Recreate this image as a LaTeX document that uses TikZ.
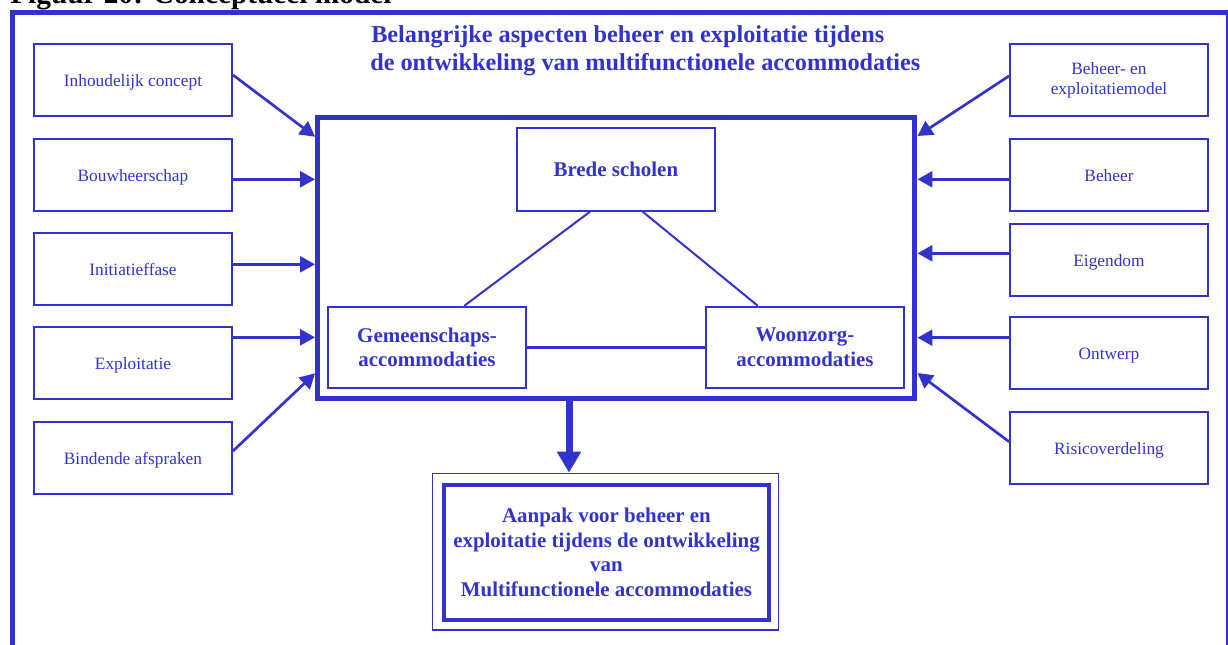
\documentclass[tikz,border=0pt]{standalone}
\usepackage{fontspec}
\setmainfont{Liberation Serif}
\usetikzlibrary{arrows.meta,calc}
\definecolor{diablue}{RGB}{51,51,204}
\begin{document}
\begin{tikzpicture}[x=0.75pt,y=-0.75pt,
  aspect/.style={draw=diablue,line width=1.5pt,text=diablue,minimum width=148.5pt,
    minimum height=54pt,inner sep=0pt,font=\fontsize{13}{15}\selectfont,align=center},
  oneline/.style={text height=9.75pt,text depth=0pt},
  kind/.style={draw=diablue,line width=1.5pt,text=diablue,inner sep=0pt,
    font=\bfseries\fontsize{15.7}{18.4}\selectfont,align=center},
  feed/.style={draw=diablue,line width=2pt,-{Triangle[length=11.25pt,width=12pt]}},
  link/.style={draw=diablue,line width=1.5pt},
  titleline/.style={anchor=base west,inner sep=0pt,text=diablue,
    font=\bfseries\fontsize{18.2}{21}\selectfont},
]
\useasboundingbox (0,0) rectangle (1228,644);

% outer page frame
\draw[diablue,line width=3.4pt] (12.7,680) -- (12.7,12.7) -- (1228,12.7) -- (1228,680);

% caption above the frame
\node[anchor=base west,inner sep=0pt,font=\bfseries\fontsize{22}{24}\selectfont] (caption) at (10,3) {Figuur 20: Conceptueel model};

% title
\node[titleline] (title1) at (371,42.5) {Belangrijke aspecten beheer en exploitatie tijdens};
\node[titleline] (title2) at (370,70) {de ontwikkeling van multifunctionele accommodaties};

% aspects on the left
\node[aspect,oneline] (l1) at (133,80)    {Inhoudelijk concept};
\node[aspect,oneline] (l2) at (133,174.5) {Bouwheerschap};
\node[aspect,oneline] (l3) at (133,269)   {Initiatieffase};
\node[aspect,oneline] (l4) at (133,363)   {Exploitatie};
\node[aspect,oneline] (l5) at (133,458)   {Bindende afspraken};

% aspects on the right
\node[aspect]         (r1) at (1109,80.3)  {Beheer- en\\exploitatiemodel};
\node[aspect,oneline] (r2) at (1109,174.7) {Beheer};
\node[aspect,oneline] (r3) at (1109,259.7) {Eigendom};
\node[aspect,oneline] (r4) at (1109,352.5) {Ontwerp};
\node[aspect,oneline] (r5) at (1109,447.5) {Risicoverdeling};

% central frame with the three kinds of accommodation
\node[draw=diablue,line width=3.75pt,minimum width=448.1pt,minimum height=211.1pt,inner sep=0pt] (frame) at (616.25,258.25) {};
\node[kind,minimum width=148.7pt,minimum height=61.8pt] (brede) at (615.85,169.5) {Brede scholen};
\node[kind,minimum width=148.95pt,minimum height=61.2pt] (gem) at (427,347.5) {Gemeenschaps-\\accommodaties};
\node[kind,minimum width=148.5pt,minimum height=61.2pt] (woon) at (805,347.5) {Woonzorg-\\accommodaties};

\draw[link] (brede.south -| 590,0) -- (gem.north -| 464.3,0);
\draw[link] (brede.south -| 642.7,0) -- (woon.north -| 757.7,0);
\draw[link,line width=2pt] (gem.east) -- (woon.west);

% result box (double border)
\node[draw=diablue,line width=1.25pt,minimum width=259.5pt,minimum height=117.4pt,inner sep=0pt] (outer) at (605.5,551.75) {};
\node[kind,line width=3.4pt,minimum width=243.75pt,minimum height=101.25pt] (result) at (606.5,552.5)
  {Aanpak voor beheer en\\exploitatie tijdens de ontwikkeling\\van\\Multifunctionele accommodaties};

% arrows from the aspects into the frame
\draw[feed] (l1.east |- 0,75)    -- (frame.west |- 0,136.7);
\draw[feed] (l2.east |- 0,179.3) -- (frame.west |- 0,179.3);
\draw[feed] (l3.east |- 0,264.3) -- (frame.west |- 0,264.3);
\draw[feed] (l4.east |- 0,337.3) -- (frame.west |- 0,337.3);
\draw[feed] (l5.east |- 0,451)   -- (frame.west |- 0,373.3);

\draw[feed] (r1.west |- 0,76)    -- (frame.east |- 0,136);
\draw[feed] (r2.west |- 0,179.3) -- (frame.east |- 0,179.3);
\draw[feed] (r3.west |- 0,253.3) -- (frame.east |- 0,253.3);
\draw[feed] (r4.west |- 0,337.7) -- (frame.east |- 0,337.7);
\draw[feed] (r5.west |- 0,441.7) -- (frame.east |- 0,373);

% arrow from the frame down to the result
\draw[draw=diablue,line width=5.25pt,-{Triangle[length=15.75pt,width=17.25pt]}]
  (frame.south -| 569,0) -- (outer.north -| 569,0);
\end{tikzpicture}
\end{document}
